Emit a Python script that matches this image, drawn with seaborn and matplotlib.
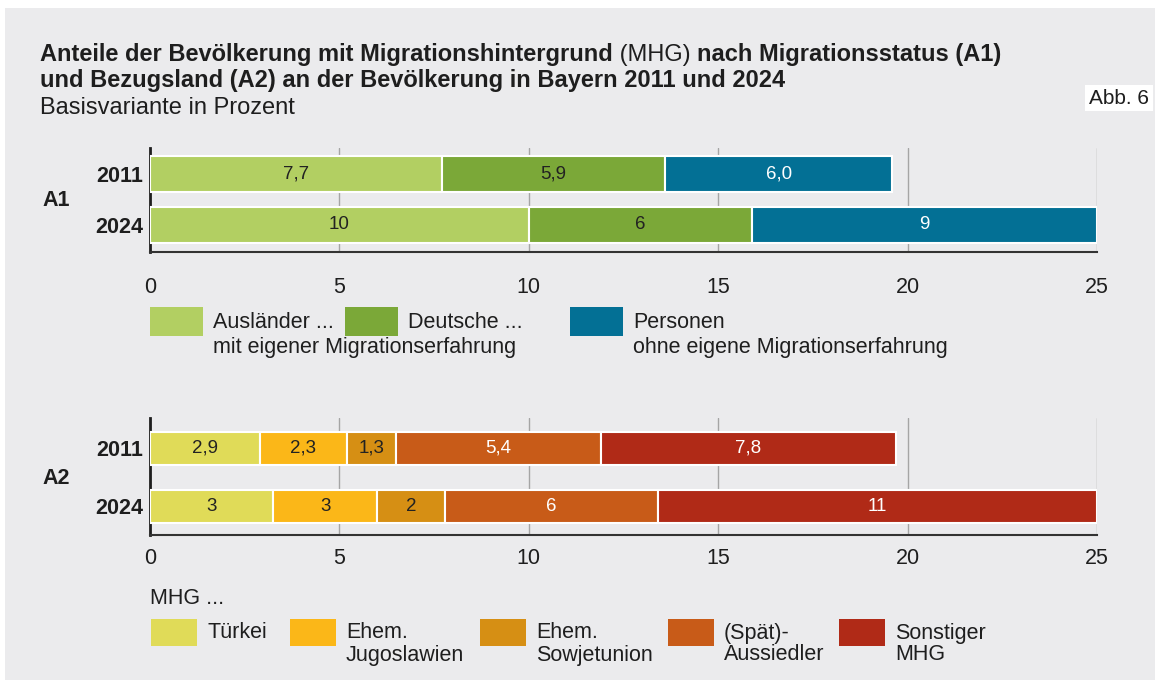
import numpy as np
import matplotlib
matplotlib.use("Agg")
import matplotlib.pyplot as plt
from matplotlib.patches import Rectangle
import seaborn as sns

# data (percent of population in Bavaria)
years = ["2011", "2024"]

# A1: migration status
a1_auslaender = [7.7, 10.0]
a1_deutsche = [5.9, 5.9]
a1_personen = [6.0, 9.1]
a1_auslaender_labels = ["7,7", "10"]
a1_deutsche_labels = ["5,9", "6"]
a1_personen_labels = ["6,0", "9"]

# A2: reference country
a2_tuerkei = [2.9, 3.25]
a2_jugoslawien = [2.3, 2.75]
a2_sowjetunion = [1.3, 1.8]
a2_aussiedler = [5.4, 5.6]
a2_sonstige = [7.8, 11.6]
a2_tuerkei_labels = ["2,9", "3"]
a2_jugoslawien_labels = ["2,3", "3"]
a2_sowjetunion_labels = ["1,3", "2"]
a2_aussiedler_labels = ["5,4", "6"]
a2_sonstige_labels = ["7,8", "11"]

x_ticks = [0, 5, 10, 15, 20, 25]

a1_legend = [("Ausländer ...", "mit eigener Migrationserfahrung"),
             ("Deutsche ...", ""),
             ("Personen", "ohne eigene Migrationserfahrung")]
a2_legend = [("Türkei", ""), ("Ehem.", "Jugoslawien"), ("Ehem.", "Sowjetunion"),
             ("(Spät)-", "Aussiedler"), ("Sonstiger", "MHG")]

a1_colors = ["#b2cf62", "#7ba838", "#037095"]
a1_text = ["#222222", "#222222", "white"]
a2_colors = ["#e0db58", "#fbb718", "#d68f14", "#c85b18", "#b02a17"]
a2_text = ["#222222", "#222222", "#222222", "white", "white"]

sns.set_theme(style="white")
plt.rcParams["font.family"] = ["Liberation Sans", "DejaVu Sans"]
DARK = "#1e1e1e"

W, H = 1162, 680
fig = plt.figure(figsize=(W / 100, H / 100), dpi=100)
fig.patch.set_facecolor("white")

# overlay in pixel coordinates for background, titles and legends
bg = fig.add_axes([0, 0, 1, 1], zorder=0)
bg.set_xlim(0, W)
bg.set_ylim(H, 0)
bg.axis("off")
bg.add_patch(Rectangle((5, 8), 1150, 680, color="#ebebed", lw=0))


def px_axes(x0, y0, x1, y1):
    ax = fig.add_axes([x0 / W, 1 - y1 / H, (x1 - x0) / W, (y1 - y0) / H], zorder=1)
    ax.set_facecolor("none")
    return ax


def stacked(ax, series, labels, colors, tcolors, width):
    left = np.zeros(len(years))
    for vals, labs, col, tcol in zip(series, labels, colors, tcolors):
        sns.barplot(x=vals, y=years, left=left, color=col, orient="h", width=width,
                    saturation=1, errorbar=None, edgecolor="white", linewidth=1.5,
                    zorder=3, ax=ax)
        ax.bar_label(ax.containers[-1], labels=labs, label_type="center",
                     color=tcol, fontsize=13.5)
        left = left + np.array(vals)


def style_axis(ax, ylim, tick_len, pad):
    ax.set_xlim(0, 25)
    ax.set_ylim(*ylim)
    ax.set_xticks(x_ticks)
    ax.set_xlabel("")
    ax.set_ylabel("")
    ax.grid(axis="x", color="#a5a5a5", lw=1, zorder=0)
    for s in ["top", "right"]:
        ax.spines[s].set_visible(False)
    ax.spines["bottom"].set_color("#333333")
    ax.spines["bottom"].set_linewidth(1.5)
    ax.spines["left"].set_color(DARK)
    ax.spines["left"].set_linewidth(2)
    ax.tick_params(axis="x", length=tick_len, width=1, color="#a5a5a5",
                   labelsize=15.5, labelcolor=DARK, pad=pad)
    ax.tick_params(axis="y", length=0, labelsize=15.5, labelcolor=DARK, pad=5)
    t0 = ax.xaxis.get_major_ticks()[0].tick1line
    t0.set_color(DARK)
    t0.set_markeredgewidth(2)
    for lab in ax.get_yticklabels():
        lab.set_fontweight("bold")


ax1 = px_axes(150, 148, 1097, 252)
stacked(ax1, [a1_auslaender, a1_deutsche, a1_personen],
        [a1_auslaender_labels, a1_deutsche_labels, a1_personen_labels],
        a1_colors, a1_text, 0.69)
style_axis(ax1, (1.53, -0.51), 7, 11)

ax2 = px_axes(150, 418, 1097, 535)
stacked(ax2, [a2_tuerkei, a2_jugoslawien, a2_sowjetunion, a2_aussiedler, a2_sonstige],
        [a2_tuerkei_labels, a2_jugoslawien_labels, a2_sowjetunion_labels,
         a2_aussiedler_labels, a2_sonstige_labels],
        a2_colors, a2_text, 0.57)
style_axis(ax2, (1.5, -0.52), 5, 4)

bg.text(42, 200, "A1", fontsize=15.5, fontweight="bold", color=DARK, va="center")
bg.text(42, 478, "A2", fontsize=15.5, fontweight="bold", color=DARK, va="center")

# title with mixed weights
fig.canvas.draw()
renderer = fig.canvas.get_renderer()
x = 40
for part, weight in [("Anteile der Bevölkerung mit Migrationshintergrund", "bold"),
                     (" (MHG) ", "normal"),
                     ("nach Migrationsstatus (A1)", "bold")]:
    t = bg.text(x, 61, part, fontsize=17, fontweight=weight, color=DARK, va="baseline")
    x += t.get_window_extent(renderer).width
bg.text(40, 87, "und Bezugsland (A2) an der Bevölkerung in Bayern 2011 und 2024",
        fontsize=17, fontweight="bold", color=DARK, va="baseline")
bg.text(40, 114, "Basisvariante in Prozent", fontsize=17, color=DARK, va="baseline")
bg.text(1149, 98, "Abb. 6", fontsize=15, color=DARK, va="center", ha="right",
        bbox=dict(facecolor="white", edgecolor="none", pad=2.5))

# legend A1
for (l1, l2), col, px in zip(a1_legend, a1_colors, [150, 345, 570]):
    bg.add_patch(Rectangle((px, 307), 53, 29, color=col, lw=0))
    bg.text(px + 63, 322, l1, fontsize=15.5, color=DARK, va="center")
    if l2:
        bg.text(px + 63, 347, l2, fontsize=15.5, color=DARK, va="center")

# legend A2
bg.text(150, 598, "MHG ...", fontsize=15.5, color=DARK, va="center")
for (l1, l2), col, px in zip(a2_legend, a2_colors, [151, 290, 480, 668, 839]):
    bg.add_patch(Rectangle((px, 619), 46, 27, color=col, lw=0))
    bg.text(px + 56, 633, l1, fontsize=15.5, color=DARK, va="center")
    if l2:
        bg.text(px + 56, 655, l2, fontsize=15.5, color=DARK, va="center")

fig.savefig("out.png", dpi=100)
